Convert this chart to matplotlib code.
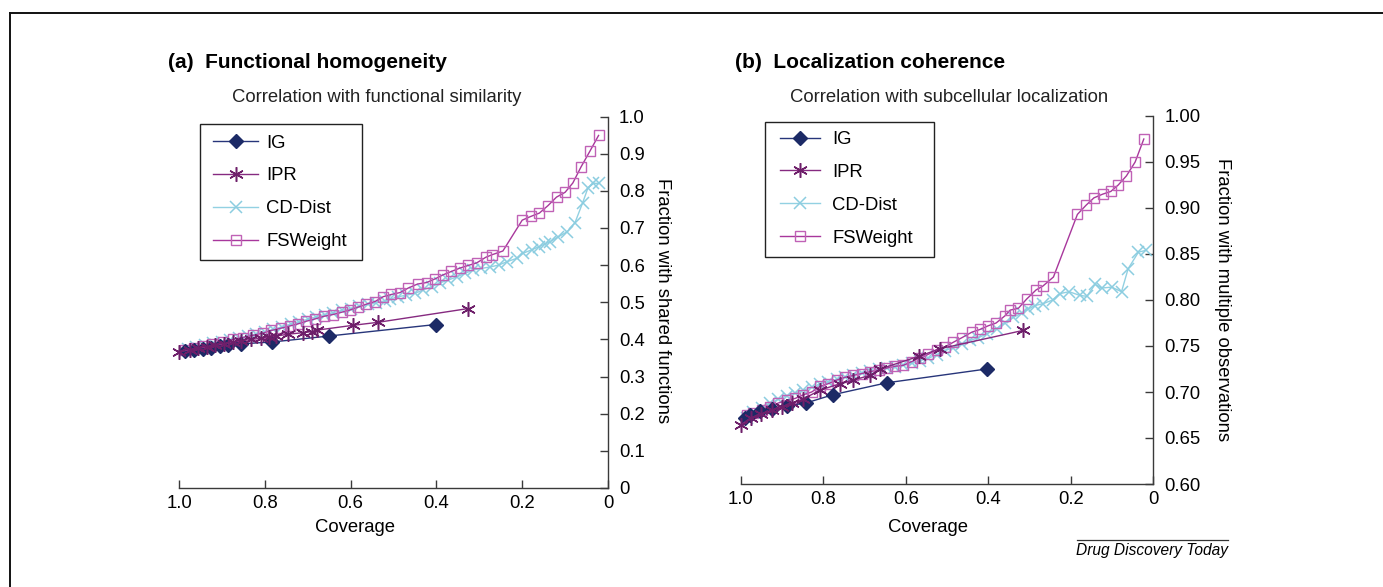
import matplotlib.pyplot as plt
import matplotlib as mpl
from matplotlib.lines import Line2D
from matplotlib.patches import Rectangle

plt.rcParams['font.family'] = ['Liberation Sans', 'DejaVu Sans']

#### Data
# (a) Functional homogeneity
a_ig_x = [0.985, 0.965, 0.945, 0.925, 0.905, 0.885, 0.855, 0.783, 0.651, 0.402]
a_ig_y = [0.369, 0.372, 0.375, 0.378, 0.381, 0.384, 0.388, 0.393, 0.409, 0.440]

a_ipr_x = [1.000, 0.975, 0.955, 0.935, 0.915, 0.895, 0.875, 0.855, 0.832, 0.810,
           0.790, 0.773, 0.746, 0.711, 0.690, 0.678, 0.594, 0.536, 0.326]
a_ipr_y = [0.367, 0.372, 0.376, 0.380, 0.384, 0.388, 0.392, 0.396, 0.400, 0.403,
           0.406, 0.409, 0.414, 0.418, 0.421, 0.425, 0.438, 0.446, 0.483]

a_cd_x = [0.980, 0.960, 0.940, 0.920, 0.900, 0.880, 0.860, 0.840, 0.820, 0.800,
          0.780, 0.760, 0.740, 0.720, 0.700, 0.680, 0.660, 0.640, 0.620, 0.600,
          0.580, 0.560, 0.540, 0.520, 0.509, 0.489, 0.470, 0.450, 0.431, 0.411,
          0.392, 0.372, 0.353, 0.333, 0.314, 0.295, 0.275, 0.255, 0.236, 0.213,
          0.198, 0.178, 0.162, 0.147, 0.135, 0.116, 0.095, 0.077, 0.059, 0.047,
          0.034, 0.020]
a_cd_y = [0.374, 0.379, 0.384, 0.389, 0.394, 0.399, 0.404, 0.409, 0.415, 0.421,
          0.427, 0.434, 0.441, 0.448, 0.454, 0.461, 0.467, 0.472, 0.478, 0.483,
          0.489, 0.494, 0.499, 0.504, 0.508, 0.515, 0.519, 0.524, 0.533, 0.542,
          0.552, 0.560, 0.568, 0.578, 0.587, 0.591, 0.595, 0.600, 0.609, 0.618,
          0.632, 0.641, 0.649, 0.657, 0.663, 0.676, 0.690, 0.714, 0.768, 0.807,
          0.820, 0.820]

a_fs_x = [0.985, 0.965, 0.945, 0.922, 0.898, 0.875, 0.851, 0.827, 0.804, 0.785,
          0.763, 0.742, 0.722, 0.703, 0.683, 0.663, 0.641, 0.621, 0.602, 0.582,
          0.563, 0.543, 0.524, 0.505, 0.485, 0.466, 0.444, 0.423, 0.403, 0.384,
          0.365, 0.345, 0.326, 0.306, 0.285, 0.270, 0.245, 0.200, 0.180, 0.160,
          0.140, 0.120, 0.100, 0.082, 0.063, 0.042, 0.022]
a_fs_y = [0.372, 0.377, 0.382, 0.388, 0.394, 0.400, 0.405, 0.411, 0.417, 0.424,
          0.430, 0.436, 0.442, 0.449, 0.455, 0.462, 0.467, 0.473, 0.479, 0.487,
          0.495, 0.502, 0.515, 0.521, 0.526, 0.538, 0.549, 0.553, 0.563, 0.574,
          0.583, 0.592, 0.599, 0.606, 0.621, 0.628, 0.638, 0.721, 0.731, 0.740,
          0.760, 0.783, 0.796, 0.821, 0.864, 0.907, 0.949]

# (b) Localization coherence
b_ig_x = [0.990, 0.977, 0.953, 0.925, 0.888, 0.842, 0.777, 0.646, 0.404]
b_ig_y = [0.672, 0.675, 0.679, 0.681, 0.685, 0.688, 0.697, 0.710, 0.725]

b_ipr_x = [1.000, 0.975, 0.950, 0.925, 0.900, 0.875, 0.850, 0.808, 0.759, 0.727,
           0.687, 0.662, 0.567, 0.517, 0.315]
b_ipr_y = [0.664, 0.672, 0.676, 0.680, 0.684, 0.688, 0.692, 0.702, 0.709, 0.713,
           0.718, 0.725, 0.739, 0.747, 0.767]

b_cd_x = [0.985, 0.969, 0.949, 0.929, 0.909, 0.888, 0.868, 0.848, 0.828, 0.808,
          0.788, 0.767, 0.747, 0.727, 0.707, 0.687, 0.666, 0.646, 0.626, 0.606,
          0.586, 0.565, 0.545, 0.525, 0.505, 0.485, 0.464, 0.444, 0.424, 0.404,
          0.380, 0.359, 0.339, 0.319, 0.303, 0.287, 0.267, 0.244, 0.226, 0.204,
          0.178, 0.161, 0.141, 0.125, 0.101, 0.077, 0.061, 0.036, 0.018]
b_cd_y = [0.672, 0.678, 0.683, 0.688, 0.692, 0.696, 0.699, 0.702, 0.705, 0.709,
          0.711, 0.714, 0.716, 0.719, 0.721, 0.723, 0.725, 0.726, 0.727, 0.729,
          0.731, 0.734, 0.737, 0.740, 0.745, 0.748, 0.752, 0.756, 0.759, 0.763,
          0.769, 0.775, 0.781, 0.786, 0.790, 0.794, 0.796, 0.800, 0.807, 0.809,
          0.805, 0.804, 0.817, 0.813, 0.814, 0.809, 0.834, 0.852, 0.854]

b_fs_x = [0.985, 0.969, 0.949, 0.929, 0.909, 0.888, 0.868, 0.848, 0.828, 0.808,
          0.788, 0.767, 0.747, 0.727, 0.707, 0.687, 0.666, 0.646, 0.626, 0.606,
          0.586, 0.565, 0.545, 0.525, 0.505, 0.485, 0.464, 0.440, 0.420, 0.400,
          0.381, 0.359, 0.347, 0.327, 0.307, 0.284, 0.268, 0.242, 0.184, 0.163,
          0.144, 0.123, 0.103, 0.085, 0.065, 0.044, 0.023]
b_fs_y = [0.675, 0.677, 0.680, 0.684, 0.688, 0.691, 0.693, 0.697, 0.700, 0.706,
          0.709, 0.713, 0.716, 0.718, 0.720, 0.722, 0.724, 0.726, 0.728, 0.729,
          0.733, 0.737, 0.741, 0.746, 0.749, 0.754, 0.759, 0.765, 0.768, 0.772,
          0.775, 0.783, 0.789, 0.791, 0.801, 0.811, 0.815, 0.825, 0.893, 0.903,
          0.911, 0.915, 0.918, 0.925, 0.935, 0.950, 0.975]

labels = ["IG", "IPR", "CD-Dist", "FSWeight"]
x_ticks = [1.0, 0.8, 0.6, 0.4, 0.2, 0]
x_ticklabels = ["1.0", "0.8", "0.6", "0.4", "0.2", "0"]
a_yticks = [0, 0.1, 0.2, 0.3, 0.4, 0.5, 0.6, 0.7, 0.8, 0.9, 1.0]
a_yticklabels = ["0", "0.1", "0.2", "0.3", "0.4", "0.5", "0.6", "0.7", "0.8", "0.9", "1.0"]
b_yticks = [0.60, 0.65, 0.70, 0.75, 0.80, 0.85, 0.90, 0.95, 1.00]
b_yticklabels = ["0.60", "0.65", "0.70", "0.75", "0.80", "0.85", "0.90", "0.95", "1.00"]

#### Styles
ig_kw = dict(color="#27357a", lw=1.0, marker="D", ms=7.3, mfc="#1c2a66", mec="#1c2a66")
ipr_kw = dict(color="#862a80", lw=1.0, marker=(6, 2, 0), ms=10.5, mew=1.1, mec="#6e1f6a")
cd_kw = dict(color="#92d1e2", lw=1.0, marker="x", ms=8.5, mew=1.1, mec="#8ccde0")
fs_kw = dict(color="#a8379c", lw=1.0, marker="s", ms=7.8, mfc="none", mec="#c062b6", mew=1.0)
spine_col = "#3a3a3a"
fs = 13.3


def setup_axis(ax, ymin, ymax, yticks, yticklabels):
    ax.set_xlim(1.0, 0)
    ax.set_ylim(ymin, ymax)
    ax.set_xticks(x_ticks)
    ax.set_xticklabels(x_ticklabels)
    ax.set_yticks(yticks)
    ax.set_yticklabels(yticklabels)
    ax.yaxis.tick_right()
    ax.spines['left'].set_visible(False)
    ax.spines['top'].set_visible(False)
    for s in ['right', 'bottom']:
        ax.spines[s].set_color(spine_col)
        ax.spines[s].set_linewidth(1.0)
    ax.tick_params(axis='both', direction='in', length=6, width=1.0,
                   color=spine_col, labelsize=fs)
    ax.tick_params(axis='y', pad=8)
    ax.tick_params(axis='x', pad=5)
    ax.set_facecolor("white")


def draw(ax, ig, ipr, cd, fsw):
    l1, = ax.plot(ig[0], ig[1], clip_on=False, zorder=4, **ig_kw)
    l2, = ax.plot(ipr[0], ipr[1], clip_on=False, zorder=5, **ipr_kw)
    l3, = ax.plot(cd[0], cd[1], clip_on=False, zorder=2, **cd_kw)
    l4, = ax.plot(fsw[0], fsw[1], clip_on=False, zorder=3, **fs_kw)
    return [l1, l2, l3, l4]


W, H = 1383, 587
fig = plt.figure(figsize=(W / 100, H / 100), dpi=100)
fig.patch.set_facecolor("white")

# Panel (a)
axA = fig.add_axes([179 / W, 1 - 488 / H, 429 / W, (488 - 116.5) / H])
setup_axis(axA, 0, 1.0, a_yticks, a_yticklabels)
hA = draw(axA, (a_ig_x, a_ig_y), (a_ipr_x, a_ipr_y), (a_cd_x, a_cd_y), (a_fs_x, a_fs_y))

# Panel (b)
axB = fig.add_axes([740.7 / W, 1 - 484 / H, 412.6 / W, (484 - 116) / H])
setup_axis(axB, 0.60, 1.00, b_yticks, b_yticklabels)
hB = draw(axB, (b_ig_x, b_ig_y), (b_ipr_x, b_ipr_y), (b_cd_x, b_cd_y), (b_fs_x, b_fs_y))

# Legends: frameless legend plus a hand-placed box (box is wider on the right)
legend_specs = [
    # ax, handles, handle start x, anchor y, handlelength, textpad, box (x0, y0, x1, y1)
    (axA, hA, 213, 134.5, 2.44, 0.43, (200, 124, 362, 260)),
    (axB, hB, 780, 131, 2.17, 0.65, (765, 122, 934, 257)),
]
for ax, handles, lx, ly, hl, tp, box in legend_specs:
    ax.legend(handles, labels, loc='upper left',
              bbox_to_anchor=(lx / W, 1 - ly / H), bbox_transform=fig.transFigure,
              frameon=False, fontsize=fs, handlelength=hl, handletextpad=tp,
              labelspacing=0.86, borderpad=0, borderaxespad=0)
    x0, y0, x1, y1 = box
    fig.add_artist(Rectangle((x0 / W, 1 - y1 / H), (x1 - x0) / W, (y1 - y0) / H,
                             transform=fig.transFigure, fill=False,
                             edgecolor="#222222", lw=1.0, zorder=6))

# Titles and labels
fig.text(168 / W, 1 - 62 / H, "(a)  Functional homogeneity", fontsize=15,
         fontweight='bold', ha='left', va='center')
fig.text(735 / W, 1 - 62 / H, "(b)  Localization coherence", fontsize=15,
         fontweight='bold', ha='left', va='center')
fig.text(232 / W, 1 - 98 / H, "Correlation with functional similarity", fontsize=13.3,
         ha='left', va='center', color="#222222")
fig.text(790 / W, 1 - 98 / H, "Correlation with subcellular localization", fontsize=13.3,
         ha='left', va='center', color="#222222")
fig.text(663 / W, 1 - 301 / H, "Fraction with shared functions", fontsize=fs,
         rotation=270, ha='center', va='center')
fig.text(1223 / W, 1 - 300 / H, "Fraction with multiple observations", fontsize=fs,
         rotation=270, ha='center', va='center')
fig.text(355 / W, 1 - 528 / H, "Coverage", fontsize=fs, ha='center', va='center')
fig.text(928 / W, 1 - 528 / H, "Coverage", fontsize=fs, ha='center', va='center')

# Journal credit
fig.text(1228 / W, 1 - 550 / H, "Drug Discovery Today", fontsize=11.2, style='italic',
         ha='right', va='center')
fig.add_artist(Line2D([1077 / W, 1228 / W], [1 - 540 / H, 1 - 540 / H],
                      color="#333333", lw=0.9, transform=fig.transFigure))

# Outer frame (top and left only)
fig.add_artist(Line2D([10 / W, 1.0], [1 - 13 / H, 1 - 13 / H], color="#111111", lw=1.4,
                      transform=fig.transFigure))
fig.add_artist(Line2D([10 / W, 10 / W], [0, 1 - 13 / H], color="#111111", lw=1.4,
                      transform=fig.transFigure))

fig.savefig("out.png", dpi=100, facecolor="white")
